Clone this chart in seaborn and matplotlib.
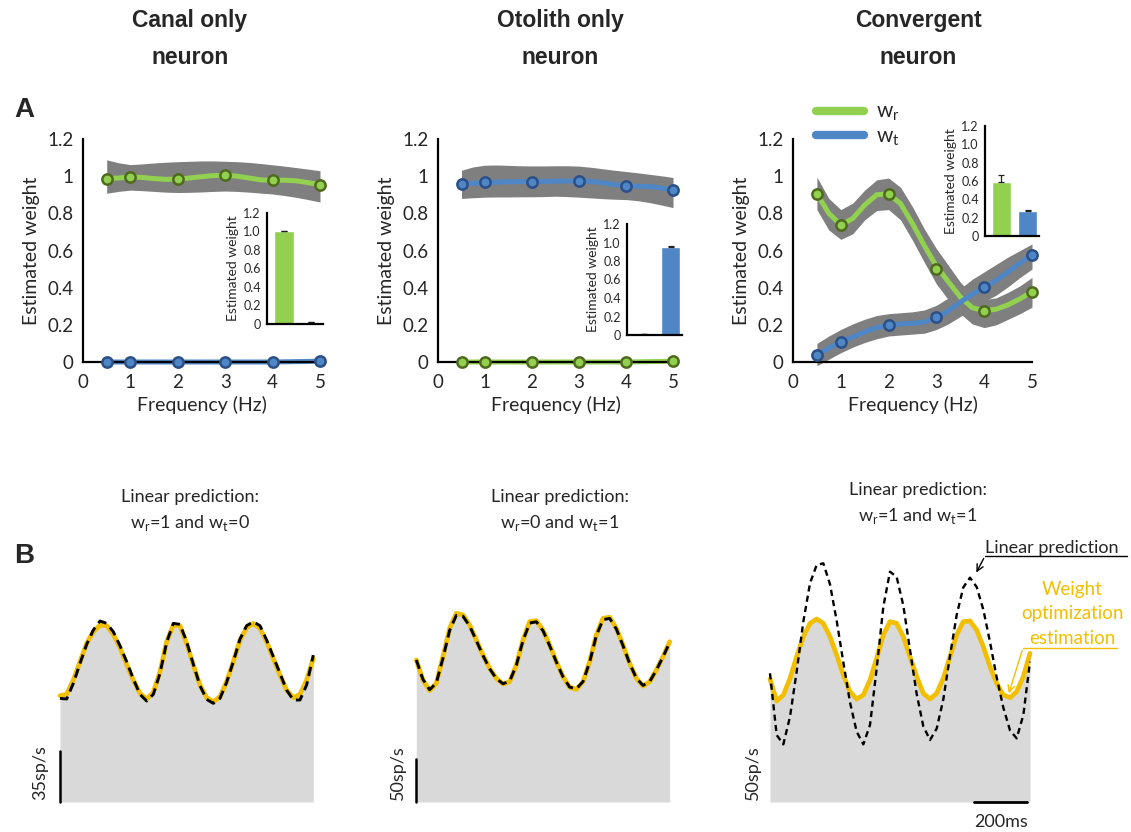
import numpy as np
import pandas as pd
import matplotlib
matplotlib.use("Agg")
import matplotlib.pyplot as plt
from matplotlib.lines import Line2D
import seaborn as sns

W, H = 1131, 832

# ---- panel A data: estimated weights vs frequency ----
freq_pts = [0.5, 1, 2, 3, 4, 5]
freq_grid = [0.5, 0.75, 1.0, 1.25, 1.5, 1.75, 2.0, 2.25, 2.5, 2.75, 3.0,
             3.25, 3.5, 3.75, 4.0, 4.25, 4.5, 4.75, 5.0]

# canal only neuron
canal_wr_pts = [0.987, 0.996, 0.984, 1.005, 0.978, 0.955]
canal_wt_pts = [0.0, 0.0, 0.0, 0.0, 0.0, 0.005]
canal_wr_curve = [0.987, 0.990, 0.996, 0.993, 0.987, 0.983, 0.984, 0.990, 0.997, 1.003,
                  1.005, 1.000, 0.990, 0.980, 0.978, 0.978, 0.975, 0.965, 0.955]
canal_wr_hi = [1.088, 1.072, 1.062, 1.066, 1.071, 1.075, 1.078, 1.080, 1.082, 1.082,
               1.080, 1.078, 1.074, 1.068, 1.061, 1.054, 1.046, 1.038, 1.029]
canal_wr_lo = [0.908, 0.918, 0.925, 0.922, 0.918, 0.914, 0.912, 0.913, 0.915, 0.918,
               0.920, 0.918, 0.914, 0.909, 0.904, 0.896, 0.886, 0.874, 0.861]
canal_wt_curve = [0.0, 0.0, 0.0, 0.0, 0.0, 0.0, 0.0, 0.0, 0.0, 0.0,
                  0.0, 0.0, 0.0, 0.0, 0.0, 0.001, 0.002, 0.003, 0.005]

# otolith only neuron
oto_wt_pts = [0.957, 0.966, 0.971, 0.975, 0.948, 0.925]
oto_wr_pts = [0.0, 0.0, 0.0, 0.0, 0.0, 0.005]
oto_wt_curve = [0.957, 0.962, 0.966, 0.968, 0.970, 0.971, 0.971, 0.972, 0.973, 0.974,
                0.975, 0.972, 0.965, 0.955, 0.948, 0.946, 0.944, 0.936, 0.925]
oto_wt_hi = [1.032, 1.050, 1.059, 1.060, 1.058, 1.056, 1.055, 1.055, 1.056, 1.056,
             1.054, 1.048, 1.040, 1.032, 1.025, 1.018, 1.010, 1.002, 0.993]
oto_wt_lo = [0.880, 0.884, 0.887, 0.888, 0.888, 0.889, 0.889, 0.890, 0.892, 0.890,
             0.887, 0.883, 0.879, 0.876, 0.874, 0.868, 0.858, 0.845, 0.831]
oto_wr_curve = [0.0, 0.0, 0.0, 0.0, 0.0, 0.0, 0.0, 0.0, 0.0, 0.0,
                0.0, 0.0, 0.0, 0.0, 0.0, 0.001, 0.002, 0.003, 0.005]

# convergent neuron
conv_wr_pts = [0.905, 0.737, 0.905, 0.500, 0.276, 0.375]
conv_wt_pts = [0.036, 0.108, 0.198, 0.240, 0.402, 0.578]
conv_wr_curve = [0.905, 0.800, 0.737, 0.772, 0.845, 0.900, 0.905, 0.852, 0.745, 0.625,
                 0.515, 0.432, 0.350, 0.292, 0.276, 0.284, 0.308, 0.340, 0.378]
conv_wr_hi = [0.995, 0.880, 0.820, 0.855, 0.925, 0.980, 0.990, 0.940, 0.835, 0.715,
              0.610, 0.520, 0.430, 0.360, 0.335, 0.345, 0.375, 0.410, 0.455]
conv_wr_lo = [0.820, 0.710, 0.660, 0.690, 0.765, 0.815, 0.820, 0.765, 0.655, 0.535,
              0.420, 0.335, 0.260, 0.205, 0.185, 0.200, 0.230, 0.260, 0.295]
conv_wt_curve = [0.036, 0.075, 0.108, 0.135, 0.162, 0.185, 0.198, 0.205, 0.208, 0.215,
                 0.238, 0.275, 0.322, 0.365, 0.400, 0.440, 0.485, 0.532, 0.578]
conv_wt_hi = [0.100, 0.140, 0.175, 0.205, 0.230, 0.250, 0.260, 0.265, 0.270, 0.280,
              0.305, 0.345, 0.395, 0.445, 0.485, 0.525, 0.565, 0.600, 0.635]
conv_wt_lo = [-0.020, 0.015, 0.050, 0.080, 0.105, 0.125, 0.140, 0.145, 0.150, 0.155,
              0.175, 0.205, 0.245, 0.290, 0.325, 0.360, 0.405, 0.455, 0.500]

# inset bars (mean weight, upper error)
bar_names = ["wr", "wt"]
canal_bar, canal_err = [1.005, 0.025], [0.005, 0.0]
oto_bar, oto_err = [0.015, 0.948], [0.0, 0.015]
conv_bar, conv_err = [0.584, 0.268], [0.08, 0.02]

y_ticks = [0, 0.2, 0.4, 0.6, 0.8, 1.0, 1.2]
main_ylabels = ["0", "0.2", "0.4", "0.6", "0.8", "1", "1.2"]
inset_ylabels = ["0", "0.2", "0.4", "0.6", "0.8", "1.0", "1.2"]

# ---- panel B data: firing rate traces (sp/s), 25 ms samples ----
b1_est = [72.9, 73.9, 83.7, 96.3, 108.8, 116.9, 121.4, 121.0, 115.0, 105.9,
          94.4, 83.7, 74.5, 70.7, 75.2, 89.4, 110.0, 121.4, 121.0, 108.8,
          94.0, 80.3, 71.6, 68.8, 72.3, 82.6, 96.3, 111.1, 119.6, 122.6,
          119.1, 110.0, 98.6, 87.1, 76.8, 71.6, 73.9, 83.7, 98.6]
b1_pred = [71.1, 70.7, 81.4, 95.1, 108.2, 118.0, 124.2, 122.6, 116.8, 107.2,
           96.3, 84.4, 73.9, 69.3, 73.9, 88.3, 109.6, 122.6, 121.9, 110.0,
           94.5, 79.8, 70.4, 67.7, 71.1, 82.1, 96.3, 111.8, 121.0, 123.7,
           121.0, 111.1, 99.7, 88.3, 76.8, 70.0, 70.0, 80.3, 100.8]
b2_est = [166.3, 142.9, 130.4, 139.0, 170.2, 203.4, 220.9, 219.0, 207.3, 189.7,
          172.1, 156.5, 144.8, 138.2, 140.9, 160.4, 189.7, 211.2, 212.3, 201.4,
          183.8, 164.3, 146.8, 134.3, 131.9, 140.9, 164.3, 195.6, 215.1, 216.3,
          203.4, 183.8, 162.4, 144.8, 135.8, 140.9, 154.6, 170.2, 187.7]
b2_pred = [166.3, 143.5, 131.5, 139.5, 168.5, 201.0, 218.5, 217.5, 206.0, 189.0,
           171.5, 156.0, 144.5, 138.5, 141.5, 160.0, 189.0, 209.5, 211.0, 200.5,
           183.0, 164.0, 146.5, 134.5, 132.5, 141.0, 164.0, 195.0, 213.5, 215.0,
           202.5, 183.0, 162.0, 145.0, 136.5, 141.0, 154.5, 170.0, 187.0]
b3_est = [144.0, 118.3, 125.3, 144.8, 170.2, 193.6, 209.2, 214.3, 209.2, 193.6,
          172.1, 148.7, 129.2, 120.6, 125.3, 142.9, 168.2, 195.6, 211.2, 209.2,
          193.6, 170.2, 146.8, 127.2, 120.6, 127.2, 144.8, 170.2, 195.6, 211.2,
          212.0, 201.4, 181.9, 158.5, 139.0, 125.3, 122.2, 129.2, 146.8, 174.1]
b3_pred = [150.7, 78.5, 67.5, 99.9, 152.6, 211.2, 256.1, 277.5, 279.5, 254.9,
           212.3, 163.6, 116.7, 82.4, 67.5, 90.2, 156.1, 228.7, 269.7, 263.5,
           229.9, 178.0, 126.5, 88.6, 72.6, 85.9, 120.2, 171.3, 219.0, 251.4,
           262.7, 251.8, 225.2, 187.4, 146.0, 110.5, 83.9, 74.5, 101.9, 164.3]

GREEN, GREEN_EDGE = "#92D050", "#4F6A1E"
BLUE, BLUE_EDGE = "#4F86C6", "#2B4F86"
BAND = "#7F7F7F"
YELLOW = "#F2BF00"
FILL = "#D9D9D9"

sns.set_style("white")
plt.rcParams["font.family"] = ["Lato", "DejaVu Sans"]
plt.rcParams["mathtext.fontset"] = "custom"
plt.rcParams["mathtext.rm"] = "Lato"

fig = plt.figure(figsize=(W / 100, H / 100), dpi=100)


def rect(x0, y0, x1, y1):
    return [x0 / W, 1 - y1 / H, (x1 - x0) / W, (y1 - y0) / H]


def fpt(x, y):
    return (x / W, 1 - y / H)


def weight_panel(box, series):
    ax = fig.add_axes(rect(*box))
    for curve, hi, lo, pts, color, edge in series:
        if hi is not None:
            ax.fill_between(freq_grid, lo, hi, color=BAND, lw=0, clip_on=False, zorder=1)
        sns.lineplot(x=freq_grid, y=curve, ax=ax, color=color, lw=3.6,
                     clip_on=False, zorder=2)
    for curve, hi, lo, pts, color, edge in series:
        sns.scatterplot(x=freq_pts, y=pts, ax=ax, color=color, edgecolor=edge,
                        s=55, linewidth=1.8, zorder=5, clip_on=False)
    ax.set_xlim(0, 5)
    ax.set_ylim(0, 1.2)
    ax.set_xticks(range(6))
    ax.set_yticks(y_ticks)
    ax.set_yticklabels(main_ylabels)
    ax.tick_params(axis="y", length=5, width=1.5, direction="out", labelsize=13.5, pad=2)
    ax.tick_params(axis="x", length=0, pad=9, labelsize=13.5)
    sns.despine(ax=ax)
    for s in ["left", "bottom"]:
        ax.spines[s].set_linewidth(1.6)
        ax.spines[s].set_color("black")
    ax.set_ylabel("Estimated weight", fontsize=14, labelpad=5)
    ax.set_xlabel("Frequency (Hz)", fontsize=14, labelpad=3)
    return ax


def inset_bars(box, vals, errs):
    ax = fig.add_axes(rect(*box))
    df = pd.DataFrame({"w": bar_names, "val": vals})
    sns.barplot(data=df, x="w", y="val", hue="w", palette=[GREEN, BLUE],
                legend=False, width=0.72, saturation=1, ax=ax)
    ax.errorbar([0, 1], vals, yerr=[[0, 0], errs], fmt="none", ecolor="#222222",
                elinewidth=0.9, capsize=2.5, capthick=0.9)
    ax.set_xlim(-0.62, 1.42)
    ax.set_ylim(0, 1.2)
    ax.set_yticks(y_ticks)
    ax.set_yticklabels(inset_ylabels)
    ax.set_xticks([])
    ax.set_xlabel("")
    ax.tick_params(axis="y", length=3, width=1, direction="out", labelsize=9, pad=1.5)
    sns.despine(ax=ax)
    for s in ["left", "bottom"]:
        ax.spines[s].set_linewidth(1.6)
        ax.spines[s].set_color("black")
    ax.set_ylabel("Estimated weight", fontsize=10, labelpad=3)
    return ax


weight_panel((83, 139, 320, 362), [
    (canal_wr_curve, canal_wr_hi, canal_wr_lo, canal_wr_pts, GREEN, GREEN_EDGE),
    (canal_wt_curve, None, None, canal_wt_pts, BLUE, BLUE_EDGE)])
weight_panel((438, 139, 673, 362), [
    (oto_wt_curve, oto_wt_hi, oto_wt_lo, oto_wt_pts, BLUE, BLUE_EDGE),
    (oto_wr_curve, None, None, oto_wr_pts, GREEN, GREEN_EDGE)])
ax3 = weight_panel((793, 139, 1032, 362), [
    (conv_wr_curve, conv_wr_hi, conv_wr_lo, conv_wr_pts, GREEN, GREEN_EDGE),
    (conv_wt_curve, conv_wt_hi, conv_wt_lo, conv_wt_pts, BLUE, BLUE_EDGE)])

inset_bars((267, 213, 323, 324), canal_bar, canal_err)
inset_bars((627, 224, 682, 335), oto_bar, oto_err)
inset_bars((985, 126, 1039, 236), conv_bar, conv_err)

handles = [Line2D([], [], color=GREEN, lw=6), Line2D([], [], color=BLUE, lw=6)]
ax3.legend(handles, [r"w$_\mathregular{r}$", r"w$_\mathregular{t}$"], loc="center left",
           bbox_to_anchor=fpt(816, 125), bbox_transform=fig.transFigure, frameon=False,
           handlelength=2.3, handletextpad=0.6, labelspacing=0.15, fontsize=15,
           borderpad=0, borderaxespad=0)


# ---- panel B ----
def trace_panel(box, est, pred, k, bar_val, bar_label, lab_dx, dash, lw_pred):
    ax = fig.add_axes(rect(*box))
    t = np.arange(len(est)) * 25
    ax.fill_between(t, 0, est, color=FILL, lw=0)
    sns.lineplot(x=t, y=est, ax=ax, color=YELLOW, lw=3.4, clip_on=False)
    sns.lineplot(x=t, y=pred, ax=ax, color="black", lw=lw_pred, linestyle=(0, dash),
                 clip_on=False)
    ax.set_xlim(0, t[-1])
    ax.set_ylim(0, (box[3] - box[1]) * k)
    ax.axis("off")
    if bar_val:
        ax.plot([0, 0], [0, bar_val], color="black", lw=1.8, clip_on=False)
    ax.annotate(bar_label, xy=(0, 0), xytext=(lab_dx, 2), textcoords="offset pixels",
                rotation=90, ha="center", va="bottom", fontsize=13)
    return ax


trace_panel((60, 540, 313.3, 802), b1_est, b1_pred, 35 / 51, 35, "35sp/s", -20, (3.2, 1.9), 2.1)
trace_panel((416.3, 540, 669.7, 802), b2_est, b2_pred, 50 / 42.7, 50, "50sp/s", -18, (3.2, 1.9), 2.1)
axb3 = trace_panel((770, 540, 1030, 802), b3_est, b3_pred, 50 / 42.7, 0, "50sp/s", -17, (2.6, 1.8), 1.7)

# 200 ms time bar
axb3.plot([765, 965], [0, 0], color="black", lw=2, clip_on=False)
axb3.annotate("200ms", xy=(865, 0), xytext=(0, -20), textcoords="offset pixels",
              ha="center", va="center", fontsize=13)

# callouts on the convergent trace
fig.text(*fpt(985, 548), "Linear prediction", fontsize=13, ha="left", va="center")
fig.add_artist(Line2D([985 / W, 1127 / W], [1 - 556 / H, 1 - 556 / H], color="black", lw=1))
fig.add_artist(matplotlib.patches.FancyArrowPatch(
    fpt(985, 556), fpt(975, 575), transform=fig.transFigure, arrowstyle="->",
    mutation_scale=12, lw=1, color="black"))
for txt, yy in [("Weight", 589), ("optimization", 614), ("estimation", 638)]:
    fig.text(*fpt(1072, yy), txt, fontsize=13.5, color=YELLOW, ha="center", va="center")
fig.add_artist(Line2D([1023 / W, 1117 / W], [1 - 648 / H, 1 - 648 / H], color=YELLOW, lw=1))
fig.add_artist(matplotlib.patches.FancyArrowPatch(
    fpt(1023, 648), fpt(1008, 696), transform=fig.transFigure, arrowstyle="->",
    mutation_scale=12, lw=1, color=YELLOW))

# ---- titles and labels ----
for xc, l1 in [(190, "Canal only"), (560, "Otolith only"), (918, "Convergent")]:
    fig.text(*fpt(xc, 21), l1, fontsize=16.5, fontweight="bold", family="Liberation Sans",
             ha="center", va="center")
    fig.text(*fpt(xc, 58), "neuron", fontsize=16.5, fontweight="bold", family="Liberation Sans",
             ha="center", va="center")

fig.text(*fpt(24, 110), "A", fontsize=20, fontweight="bold", family="Liberation Sans",
         ha="center", va="center")
fig.text(*fpt(24, 556), "B", fontsize=20, fontweight="bold", family="Liberation Sans",
         ha="center", va="center")

for xc, y1, wr, wt in [(190, 497, "1", "0"), (560, 497, "0", "1"), (918, 490, "1", "1")]:
    fig.text(*fpt(xc, y1), "Linear prediction:", fontsize=13, ha="center", va="center")
    fig.text(*fpt(xc, y1 + 26),
             r"w$_\mathregular{r}$=" + wr + r" and w$_\mathregular{t}$=" + wt,
             fontsize=13, ha="center", va="center")

fig.savefig("out.png", dpi=100)
